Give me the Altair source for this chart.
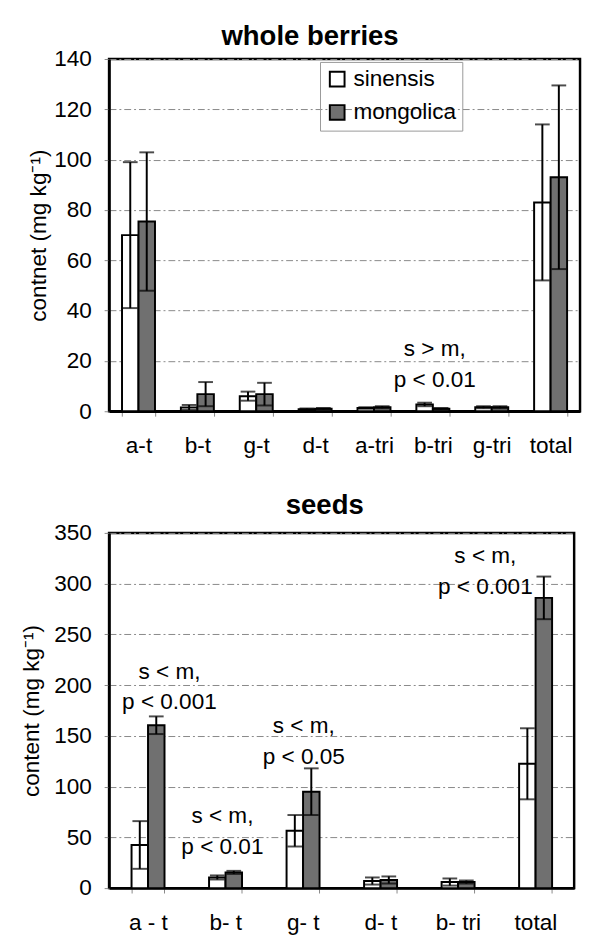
import altair as alt
import pandas as pd

FONT = "Liberation Sans"

SPECIES = ["sinensis", "mongolica"]

# whole berries
WB_CATS = ["a-t", "b-t", "g-t", "d-t", "a-tri", "b-tri", "g-tri", "total"]
WB_SIN = [70, 1.5, 6, 0.8, 1.3, 2.7, 1.6, 83]
WB_SIN_ERR = [29, 1, 1.8, 0.3, 0.3, 0.7, 0.4, 31]
WB_MON = [75.4, 6.8, 6.8, 1.0, 1.6, 1.0, 1.6, 93]
WB_MON_ERR = [27.5, 4.8, 4.5, 0.3, 0.4, 0.3, 0.4, 36.5]
WB_TICKS = [0, 20, 40, 60, 80, 100, 120, 140]
WB_ANN_CATS = ["b-tri"]
WB_ANN_Y = [21.8]
WB_ANN_TEXT = ["s > m,\np < 0.01"]

# seeds
SD_CATS = ["a - t", "b- t", "g- t", "d- t", "b- tri", "total"]
SD_SIN = [42.5, 10.5, 56.5, 7, 6, 122.5]
SD_SIN_ERR = [23.5, 2, 15.5, 3.5, 3.5, 35]
SD_MON = [160.5, 15.5, 95, 8, 6, 286]
SD_MON_ERR = [8.7, 1.5, 23, 3.5, 1.5, 21]
SD_TICKS = [0, 50, 100, 150, 200, 250, 300, 350]
SD_ANN_CATS = ["a - t", "b- t", "g- t", "total"]
SD_ANN_Y = [206, 63.8, 152.5, 320]
SD_ANN_TEXT = ["s < m,\np < 0.001", "s < m,\np < 0.01", "s < m,\np < 0.05", "s < m,\np < 0.001"]


def build_df(cats, sin, sin_err, mon, mon_err):
    rows = []
    for c, v, e in zip(cats, sin, sin_err):
        rows.append({"cat": c, "sp": "sinensis", "v": v, "lo": v - e, "hi": v + e})
    for c, v, e in zip(cats, mon, mon_err):
        rows.append({"cat": c, "sp": "mongolica", "v": v, "lo": v - e, "hi": v + e})
    return pd.DataFrame(rows)


def panel(cats, sin, sin_err, mon, mon_err, ticks, ytitle, title, width, height,
          pad_inner, title_pad, legend_x, legend_y, ann_cats, ann_y, ann_text, ann_dx,
          title_offset, title_dx, cap):
    df = build_df(cats, sin, sin_err, mon, mon_err)
    ymax = ticks[-1]
    x = alt.X("cat:N", sort=cats, title=None,
              scale=alt.Scale(paddingInner=pad_inner, paddingOuter=pad_inner / 2),
              axis=alt.Axis(labelAngle=0, tickBand="extent", tickColor="#888",
                            tickSize=5, labelPadding=19, labelFontSize=23,
                            domainColor="black", domainWidth=2.5, grid=False))
    xo = alt.XOffset("sp:N", sort=SPECIES, scale=alt.Scale(domain=SPECIES))
    yscale = alt.Scale(domain=[0, ymax], nice=False)
    base = alt.Chart(df)
    bars = base.mark_bar(stroke="black", strokeWidth=2).encode(
        x=x, xOffset=xo,
        y=alt.Y("v:Q", scale=yscale, title=ytitle,
                axis=alt.Axis(values=ticks, grid=True, gridColor="#888",
                              gridDash=[7, 3, 2, 3], gridWidth=1,
                              tickColor="#888", tickSize=5, labelPadding=13,
                              labelFontSize=23, titleFontSize=23,
                              titleFontWeight="normal", titlePadding=title_pad,
                              domainColor="black", domainWidth=2.5)),
        fill=alt.Fill("sp:N", sort=SPECIES,
                      scale=alt.Scale(domain=SPECIES, range=["white", "#707070"]),
                      legend=alt.Legend(title=None, orient="none",
                                        legendX=legend_x, legendY=legend_y,
                                        strokeColor="#999", padding=6,
                                        symbolType="square", symbolSize=225,
                                        symbolStrokeColor="black",
                                        symbolStrokeWidth=2,
                                        labelFontSize=23, labelFont=FONT,
                                        rowPadding=10, labelOffset=5)),
    )
    rules = base.mark_rule(color="black", strokeWidth=2).encode(
        x=x, xOffset=xo, y=alt.Y("lo:Q", scale=yscale), y2="hi:Q")
    cap_hi = base.mark_tick(color="black", thickness=2, size=cap).encode(
        x=x, xOffset=xo, y=alt.Y("hi:Q", scale=yscale))
    cap_lo = base.mark_tick(color="black", thickness=2, size=cap).encode(
        x=x, xOffset=xo, y=alt.Y("lo:Q", scale=yscale))
    layers = [bars, rules, cap_hi, cap_lo]
    for c, yv, t, dx in zip(ann_cats, ann_y, ann_text, ann_dx):
        adf = pd.DataFrame({"cat": [c], "y": [yv], "t": [t]})
        layers.append(
            alt.Chart(adf).mark_text(fontSize=23, font=FONT, lineBreak="\n",
                                     lineHeight=31, baseline="alphabetic",
                                     align="center", dx=dx, color="black").encode(
                x=alt.X("cat:N", sort=cats),
                y=alt.Y("y:Q", scale=yscale),
                text="t:N"))
    return alt.layer(*layers).properties(
        width=width, height=height,
        title=alt.TitleParams(title, fontSize=28, fontWeight="bold", font=FONT,
                              anchor="middle", frame="bounds", offset=title_offset,
                              dx=title_dx))


top = panel(WB_CATS, WB_SIN, WB_SIN_ERR, WB_MON, WB_MON_ERR, WB_TICKS,
            "contnet (mg  kg⁻¹)", "whole berries", 480, 359, 0.44, 3, 215, 3,
            WB_ANN_CATS, WB_ANN_Y, WB_ANN_TEXT, [2], -2.5, 6, 15)
bottom = panel(SD_CATS, SD_SIN, SD_SIN_ERR, SD_MON, SD_MON_ERR, SD_TICKS,
               "content (mg  kg⁻¹)", "seeds", 474, 362, 0.58, 11, 173, 6,
               SD_ANN_CATS, SD_ANN_Y, SD_ANN_TEXT, [22, -3, 1, -51], 2.6, 28, 15)

chart = alt.vconcat(top, bottom, spacing=32).properties(
    padding={"left": 11, "top": 5, "right": 0, "bottom": 0}
).configure(font=FONT).configure_view(
    stroke="black", strokeWidth=2.5
).configure_axis(labelFont=FONT, titleFont=FONT, labelColor="black",
                 titleColor="black")

chart.save("out.html", embed_options={"renderer": "svg", "actions": False})
